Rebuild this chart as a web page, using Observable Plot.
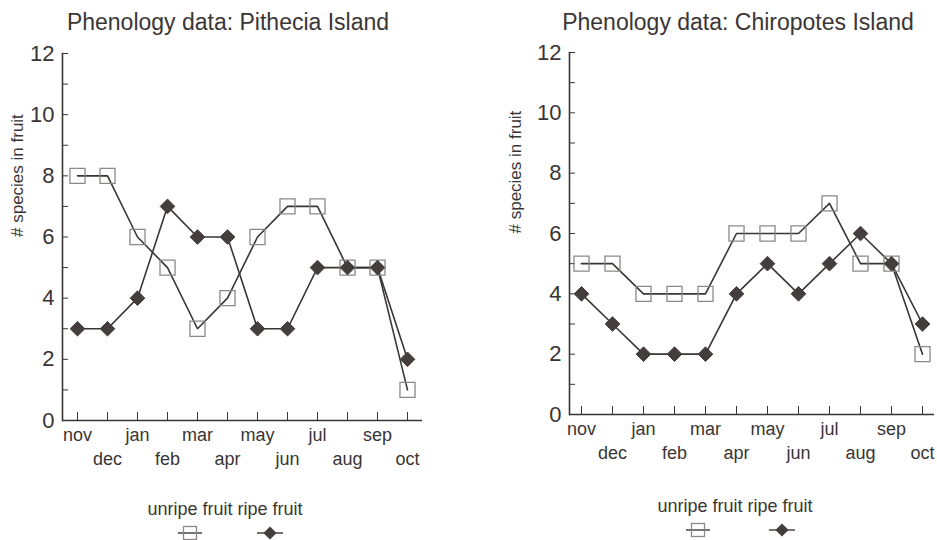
<!DOCTYPE html>
<html>
<head>
<meta charset="utf-8">
<script src="https://cdn.jsdelivr.net/npm/d3@7"></script>
<script src="https://cdn.jsdelivr.net/npm/@observablehq/plot@0.6"></script>
<style>
  body { margin: 0; background: #fff; font-family: "Liberation Sans", Arial, sans-serif; color: #3a3636; }
  #wrap { position: relative; width: 937px; height: 540px; overflow: hidden; }
  .title { position: absolute; top: 9px; font-size: 23px; line-height: 26px; white-space: nowrap; transform: translateX(-50%); }
  .panel { position: absolute; top: 0; }
  .legtext { position: absolute; font-size: 18px; line-height: 20px; white-space: nowrap; transform: translateX(-50%); }
  .legsym { position: absolute; }
</style>
</head>
<body>
<div id="wrap"></div>
<script>
// ---- data ----
const months = ["nov","dec","jan","feb","mar","apr","may","jun","jul","aug","sep","oct"];
const monthsRow1 = ["nov","jan","mar","may","jul","sep"];
const monthsRow2 = ["dec","feb","apr","jun","aug","oct"];
const yMajorTicks = [0, 2, 4, 6, 8, 10, 12];
const yMinorTicks = [1, 2, 3, 4, 5, 6, 7, 8, 9, 10, 11, 12];
const pitheciaUnripe   = [8, 8, 6, 5, 3, 4, 6, 7, 7, 5, 5, 1];
const pitheciaRipe     = [3, 3, 4, 7, 6, 6, 3, 3, 5, 5, 5, 2];
const chiropotesUnripe = [5, 5, 4, 4, 4, 6, 6, 6, 7, 5, 5, 2];
const chiropotesRipe   = [4, 3, 2, 2, 2, 4, 5, 4, 5, 6, 5, 3];
const seriesNames = ["unripe fruit", "ripe fruit"];
const titles = ["Phenology data: Pithecia Island", "Phenology data: Chiropotes Island"];
const yLabel = "# species in fruit";

const ink = "#3a3535";
const squareStroke = "#8c8888";
const wrap = document.getElementById("wrap");

function rows(values) { return months.map((m, i) => ({month: m, value: values[i]})); }

function panel({unripe, ripe, left, marginLeft, marginTop, marginBottom, marginRight, yLabelDx}) {
  const u = rows(unripe), r = rows(ripe);
  const chart = Plot.plot({
    width: 468, height: 480,
    marginLeft, marginTop, marginBottom, marginRight,
    style: {fontFamily: "Liberation Sans, Arial, sans-serif", color: ink, background: "transparent", overflow: "visible"},
    x: {type: "point", domain: months, padding: 0.37},
    y: {domain: [0, 12]},
    marks: [
      Plot.axisY(yMinorTicks, {tickSize: -6, tickFormat: () => "", label: null, stroke: ink}),
      Plot.axisY(yMajorTicks, {tickSize: 0, tickPadding: 8, fontSize: 22, label: null, fill: ink}),
      Plot.axisX(months, {tickSize: -8, tickFormat: () => "", label: null, stroke: ink}),
      Plot.axisX(monthsRow1, {tickSize: 0, tickPadding: 8, fontSize: 18, label: null, fill: ink}),
      Plot.axisX(monthsRow2, {tickSize: 0, tickPadding: 32, fontSize: 18, label: null, fill: ink}),
      Plot.ruleY([0], {stroke: ink, strokeWidth: 1.6}),
      Plot.frame({anchor: "left", stroke: ink, strokeWidth: 1.6}),
      Plot.text([yLabel], {frameAnchor: "left", rotate: -90, dx: yLabelDx, fontSize: 17, fill: ink}),
      Plot.line(u, {x: "month", y: "value", stroke: ink, strokeWidth: 1.6}),
      Plot.line(r, {x: "month", y: "value", stroke: ink, strokeWidth: 1.6}),
      Plot.dot(u, {x: "month", y: "value", symbol: "square", r: 8.5, fill: "none", stroke: squareStroke, strokeWidth: 1.3}),
      Plot.dot(r, {x: "month", y: "value", symbol: "diamond2", r: 6.6, fill: "#433d3d", stroke: "#433d3d", strokeWidth: 1})
    ]
  });
  chart.classList.add("panel");
  chart.style.left = left + "px";
  wrap.appendChild(chart);
}

panel({unripe: pitheciaUnripe, ripe: pitheciaRipe, left: 0, marginLeft: 62, marginTop: 53, marginBottom: 60, marginRight: 46, yLabelDx: -45});
panel({unripe: chiropotesUnripe, ripe: chiropotesRipe, left: 469, marginLeft: 100, marginTop: 52, marginBottom: 66, marginRight: 3, yLabelDx: -54});

// titles
[[titles[0], 228], [titles[1], 738]].forEach(([t, cx]) => {
  const d = document.createElement("div");
  d.className = "title"; d.textContent = t; d.style.left = cx + "px";
  wrap.appendChild(d);
});

// legends
function legend(cx, ty, sqx, dmx, sy) {
  const t = document.createElement("div");
  t.className = "legtext"; t.textContent = seriesNames.join(" ");
  t.style.left = cx + "px"; t.style.top = (ty - 10) + "px";
  wrap.appendChild(t);
  const svg = d3.select(wrap).append("svg").attr("class", "legsym")
    .attr("width", 937).attr("height", 540).style("left", "0px").style("top", "0px");
  svg.append("line").attr("x1", sqx - 12).attr("x2", sqx + 12).attr("y1", sy).attr("y2", sy).attr("stroke", ink).attr("stroke-width", 1.4);
  svg.append("rect").attr("x", sqx - 6.5).attr("y", sy - 6.5).attr("width", 13).attr("height", 13).attr("fill", "none").attr("stroke", squareStroke).attr("stroke-width", 1.3);
  svg.append("line").attr("x1", dmx - 13).attr("x2", dmx + 13).attr("y1", sy).attr("y2", sy).attr("stroke", ink).attr("stroke-width", 1.4);
  svg.append("path").attr("d", d3.symbol(d3.symbolDiamond2, 110)()).attr("transform", `translate(${dmx},${sy})`).attr("fill", "#433d3d");
}
legend(225, 509, 190, 270, 533);
legend(735, 506, 698, 782, 530);
</script>
</body>
</html>
